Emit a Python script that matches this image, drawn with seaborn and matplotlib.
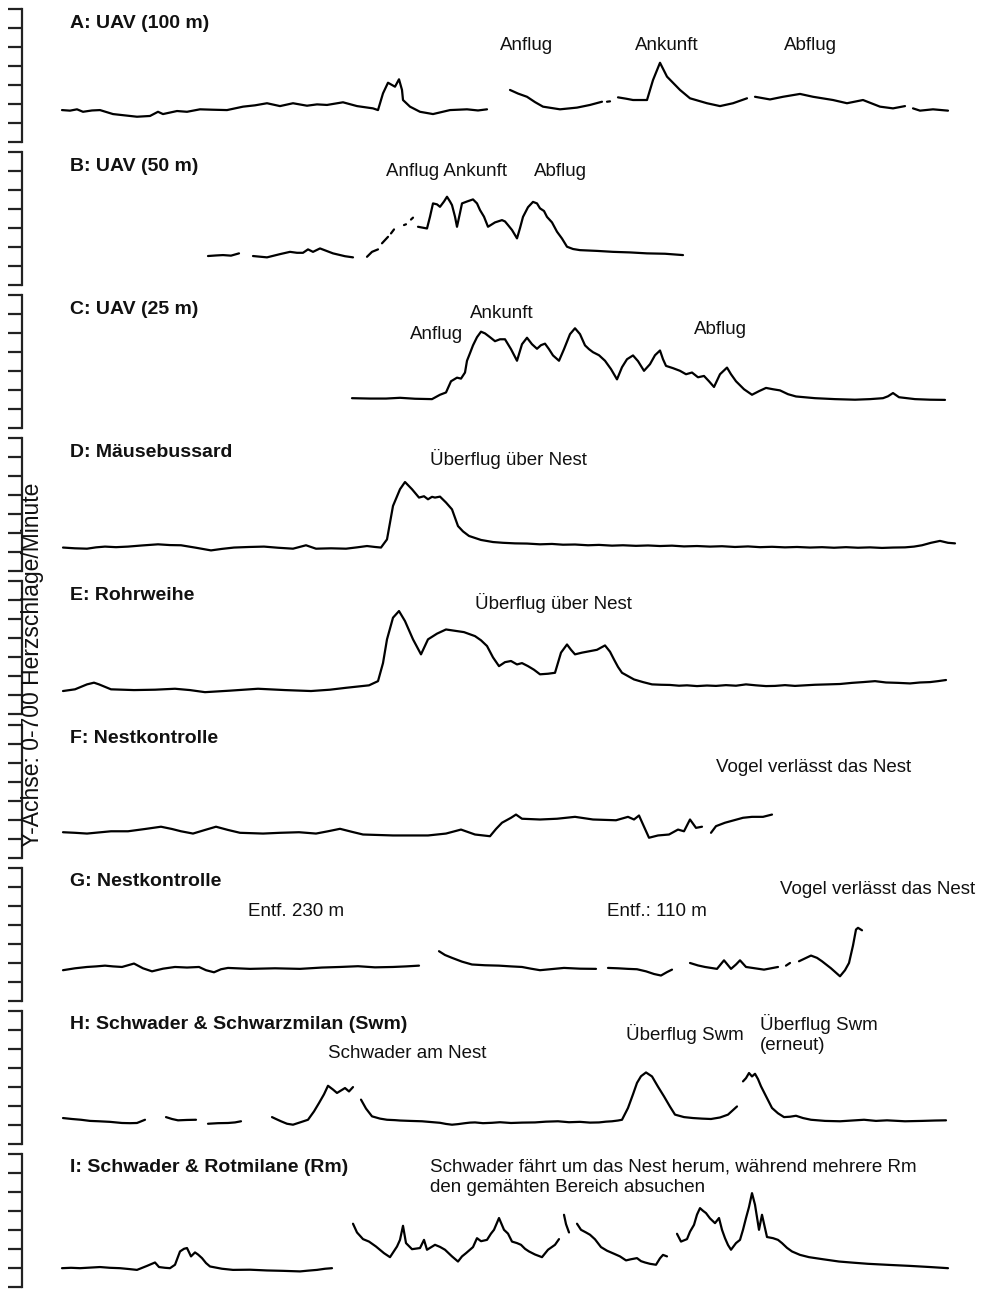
import numpy as np
import pandas as pd
import matplotlib
matplotlib.use("Agg")
import matplotlib.pyplot as plt
import seaborn as sns

GAP = np.nan

# ---------------- data (time index, heart rate in beats/min) ----------------
A_t = [62,70,77,83,92,100,113,125,137,150,158,163,170,177,187,200,212,227,243,255,267,280,293,307,317,327,343,357,373,378,383,388,395,399,402,403,410,420,433,450,467,478,487, GAP,
       510,518,527,535,543,560,577,590,602, GAP, 607,610, GAP,
       618,626,633,647,653,660,667,680,690,707,720,733,747, GAP,
       755,770,783,800,813,833,847,863,880,893,905, GAP, 913,920,933,948]
A_hr = [168,165,172,159,166,168,147,140,133,137,159,147,155,163,159,172,170,168,186,193,204,189,204,191,198,195,209,189,177,168,256,312,291,330,274,221,186,159,147,168,172,166,172, GAP,
        274,255,238,210,186,172,181,195,212, GAP, 212,214, GAP,
        235,228,221,221,326,417,344,274,230,204,189,204,230, GAP,
        238,224,238,253,238,221,204,221,186,177,189, GAP, 177,165,172,165]

B_t = [208,216,223,231,239, GAP, 253,267,280,290,297,303,308,313,320,333,345,353, GAP, 367,372,378, GAP,
       382,388, GAP, 391,394, GAP, 404,406, GAP, 411,413, GAP,
       418,427,430,433,437,440,444,447,450,452,455,457,460,462,467,473,477,480,484,488,495,502,505,508,512,517,520,523,528,533,
       537,540,544,547,552,557,562,567,573,580,597,613,630,647,665,683]
B_hr = [153,156,158,155,167, GAP, 153,146,163,175,170,170,188,175,193,167,152,146, GAP, 149,175,188, GAP,
        220,254, GAP, 272,293, GAP, 316,320, GAP, 345,355, GAP,
        307,298,360,430,425,412,440,465,440,421,360,307,380,430,440,451,430,395,360,307,330,342,335,316,290,246,300,359,410,438,
        430,404,390,359,330,281,245,202,190,184,180,175,172,167,165,158]

C_t = [352,370,386,400,415,432,440,446,451,457,461,465,467,470,473,477,481,485,490,495,500,505,511,517,522,527,532,537,541,545,
       549,553,559,564,570,575,580,585,589,593,599,605,611,617,622,627,633,638,644,650,655,660,663,666,673,680,686,692,698,704,
       709,714,720,727,731,736,744,752,759,766,773,780,788,796,815,835,855,870,883,888,893,899,915,930,945]
C_hr = [158,156,156,160,155,153,176,188,247,266,261,293,355,395,436,479,508,499,479,458,468,468,416,355,442,476,442,418,437,445,
        416,383,355,416,495,526,495,436,416,400,384,355,311,257,321,363,383,353,302,337,384,409,363,328,316,302,284,293,268,275,
        247,217,284,319,284,247,205,176,195,212,205,199,179,167,158,153,150,153,158,168,185,163,153,150,149]

D_t = [63,75,87,96,105,116,128,142,158,170,181,196,211,222,234,249,264,278,293,306,316,331,346,357,367,375,381,387,393,400,
       405,412,419,424,428,432,435,440,446,452,458,463,469,481,493,503,515,527,540,552,563,575,588,599,612,623,636,648,660,672,
       684,697,710,722,735,748,760,772,785,797,810,822,834,846,858,870,882,893,905,914,922,931,940,948,955]
D_hr = [125,121,119,126,130,127,130,136,142,138,137,124,110,118,125,128,130,124,119,137,119,121,119,126,133,128,125,168,344,432,
        470,432,388,395,379,392,388,393,362,326,238,210,186,165,154,150,147,146,142,144,140,141,137,139,135,137,134,136,133,135,
        131,133,130,132,128,131,127,129,126,128,125,127,124,127,124,126,123,125,126,130,137,150,160,150,147]

E_t = [63,75,87,94,99,111,134,155,175,190,205,230,258,285,311,330,346,369,378,383,387,393,399,405,413,421,428,437,446,455,
       464,475,481,487,493,499,505,511,517,522,528,534,540,548,555,561,567,571,575,582,590,597,605,610,614,618,622,634,643,652,
       661,670,679,687,697,707,716,726,736,746,756,766,775,785,795,805,815,828,840,852,863,875,886,898,910,920,930,938,946]
E_hr = [123,132,158,167,158,132,128,130,135,128,117,125,135,128,123,130,140,153,175,270,395,509,544,491,395,316,395,425,447,440,
        433,412,390,360,300,254,275,281,263,270,254,235,211,214,219,325,368,340,316,325,333,340,363,330,289,250,219,184,170,158,
        156,155,151,153,149,152,150,154,151,158,153,149,150,154,150,153,156,158,160,166,170,175,168,166,163,168,170,175,181]

F_t = [63,75,87,99,111,128,145,161,172,181,193,205,216,228,240,263,280,299,316,328,340,352,363,393,428,446,461,475,490,496,
       502,511,516,522,540,557,575,593,616,628,634,639,643,649,658,669,678,684,690,696,702, GAP,
       711,716,725,734,743,752,763,772]
F_hr = [133,130,126,132,138,138,150,162,150,138,126,145,162,145,130,126,130,133,126,138,151,135,121,116,116,126,147,121,112,150,
        183,209,226,204,200,204,214,200,196,214,200,221,174,104,116,121,147,138,200,156,162, GAP,
        130,165,183,196,209,214,214,226]

G_t = [63,75,87,96,105,113,122,134,143,152,163,175,187,199,206,214,221,228,250,275,300,322,340,358,375,393,406,419, GAP,
       439,445,452,462,472,485,499,511,522,531,540,552,564,580,596, GAP,
       608,618,628,637,646,654,661,667,672, GAP,
       690,698,705,711,717,724,731,736,740,746,755,764,771,778, GAP, 786,790, GAP,
       799,805,811,817,822,831,840,845,849,853,856,858,862]
G_hr = [160,170,177,180,184,180,177,195,170,154,168,177,174,177,160,149,165,172,167,170,167,174,177,181,175,177,180,184, GAP,
        260,240,225,205,190,186,184,180,177,168,160,166,172,168,167, GAP,
        172,170,167,165,154,140,132,150,163, GAP,
        198,185,177,172,167,212,167,190,212,177,170,163,170,177, GAP, 184,198, GAP,
        207,222,237,225,207,170,128,160,198,290,374,383,370]

H_t = [63,72,81,90,99,110,122,130,137,145, GAP, 166,172,178,187,196, GAP, 208,218,228,235,241, GAP,
       272,276,281,287,293,300,308,314,319,324,328,333,337,341,345,349,353, GAP,
       361,366,372,380,387,395,400,410,422,431,440,446,452,458,465,470,475,483,492,500,511,522,535,546,558,569,580,590,599,606,
       612,618,622,628,633,637,641,646,652,658,664,670,675,684,693,702,711,720,728,737, GAP,
       743,746,749,752,755,758,761,766,772,778,784,790,796,803,811,825,840,852,864,876,887,905,922,935,946]
H_hr = [135,130,126,120,118,115,109,108,109,126, GAP, 140,130,123,125,126, GAP, 105,108,109,112,118, GAP,
        140,130,118,105,100,112,126,170,214,260,305,285,267,280,293,275,298, GAP,
        232,185,144,132,126,124,122,120,118,114,110,104,100,103,108,111,112,108,110,113,109,111,112,116,118,113,115,111,112,116,
        118,122,126,188,260,320,355,375,354,300,249,195,153,140,135,132,130,138,153,196, GAP,
        328,345,372,354,368,340,302,250,188,160,140,142,147,135,126,120,118,122,126,120,123,118,120,122,123]

I_t = [62,71,80,90,100,110,120,128,137,147,155,159,165,170,175,180,184,187,191,195,198,202,206,210,222,233,250,267,283,300,
       308,317,325,332, GAP,
       353,357,363,369,376,384,390,397,400,403,406,412,420,424,427,435,440,445,452,458,462,466,473,477,481,487,491,494,499,504,
       508,512,517,521,525,529,535,542,548,555,559, GAP, 564,566,569, GAP,
       577,581,586,590,595,601,607,614,620,626,631,637,641,645,650,656,660,663,667, GAP,
       677,681,687,690,694,697,700,703,706,710,715,719,722,725,728,731,736,740,743,746,749,752,755,759,762,767,773,778,782,787,
       792,800,809,823,839,853,868,890,910,930,948]
I_hr = [98,100,98,101,104,100,98,94,89,110,128,104,100,98,116,186,200,204,160,181,170,151,125,107,95,89,90,86,84,81,
        85,89,95,98, GAP,
        332,286,251,238,212,177,156,212,247,321,230,198,204,247,195,221,210,195,160,133,160,177,209,256,240,247,280,300,362,300,
        280,238,230,221,200,186,170,156,195,221,251, GAP, 379,330,286, GAP,
        332,300,286,274,250,209,190,174,160,139,145,151,135,128,121,116,150,168,160, GAP,
        279,238,251,290,326,380,414,400,388,360,335,362,300,256,220,195,230,247,300,362,420,493,432,300,379,262,256,247,230,205,
        186,168,156,145,133,127,121,115,110,104,98]

panel_titles = ["A: UAV (100 m)", "B: UAV (50 m)", "C: UAV (25 m)", "D: Mäusebussard", "E: Rohrweihe",
                "F: Nestkontrolle", "G: Nestkontrolle", "H: Schwader & Schwarzmilan (Swm)",
                "I: Schwader & Rotmilane (Rm)"]
hr_ticks = [0, 100, 200, 300, 400, 500, 600, 700]
y_label = "Y-Achse: 0-700 Herzschläge/Minute"

# annotation texts per panel
A_notes = ["Anflug", "Ankunft", "Abflug"]
B_notes = ["Anflug Ankunft", "Abflug"]
C_notes = ["Anflug", "Ankunft", "Abflug"]
D_notes = ["Überflug über Nest"]
E_notes = ["Überflug über Nest"]
F_notes = ["Vogel verlässt das Nest"]
G_notes = ["Entf. 230 m", "Entf.: 110 m", "Vogel verlässt das Nest"]
H_notes = ["Schwader am Nest", "Überflug Swm", "Überflug Swm\n(erneut)"]
I_notes = ["Schwader fährt um das Nest herum, während mehrere Rm\nden gemähten Bereich absuchen"]

# ---------------- layout (pixels) ----------------
W, H = 988, 1291
note_pos = {
    0: [(527, 46, "center"), (667, 46, "center"), (810, 46, "center")],
    1: [(446, 171, "center"), (560, 171, "center")],
    2: [(437, 334, "center"), (502, 314, "center"), (720, 330, "center")],
    3: [(508, 459, "center")],
    4: [(553, 603, "center")],
    5: [(814, 767, "center")],
    6: [(296, 911, "center"), (657, 911, "center"), (878, 890, "center")],
    7: [(407, 1054, "center"), (685, 1034, "center"), (760, 1034, "left")],
    8: [(430, 1177, "left")],
}

series = [(A_t, A_hr, A_notes), (B_t, B_hr, B_notes), (C_t, C_hr, C_notes),
          (D_t, D_hr, D_notes), (E_t, E_hr, E_notes), (F_t, F_hr, F_notes),
          (G_t, G_hr, G_notes), (H_t, H_hr, H_notes), (I_t, I_hr, I_notes)]

sns.set_style("white")
plt.rcParams["font.family"] = ["Liberation Sans", "DejaVu Sans"]
plt.rcParams["text.color"] = "#111111"

fig = plt.figure(figsize=(W / 100, H / 100), dpi=100)

FS = 13.5
left_px, right_px = 22, 960
panel_h = 133
for i, (t, hr, notes) in enumerate(series):
    assert len(t) == len(hr), (i, len(t), len(hr))
    t = np.asarray(t, float)
    hr = np.asarray(hr, float)
    gap = np.isnan(t)
    df = pd.DataFrame({"t": t[~gap], "hr": hr[~gap], "seg": np.cumsum(gap)[~gap]})

    top = 9 + i * 143.1
    ax = fig.add_axes([left_px / W, 1 - (top + panel_h) / H,
                       (right_px - left_px) / W, panel_h / H])
    ax.patch.set_alpha(0)
    sns.lineplot(data=df, x="t", y="hr", units="seg", estimator=None, sort=False,
                 color="black", lw=1.6, ax=ax, legend=False)
    ax.set_xlim(left_px, right_px)
    ax.set_ylim(0, 700)
    for s in ["top", "right", "bottom"]:
        ax.spines[s].set_visible(False)
    ax.spines["left"].set_linewidth(1.6)
    ax.spines["left"].set_color("#222222")
    ax.set_yticks(hr_ticks)
    ax.set_yticklabels([])
    ax.set_xticks([])
    ax.tick_params(axis="y", which="major", left=True, direction="out", length=10,
                   width=1.6, color="#222222")
    ax.set_xlabel("")
    ax.set_ylabel("")

    fig.text(70 / W, 1 - (top + 14) / H, panel_titles[i], fontsize=14, fontweight="bold",
             ha="left", va="center")
    for txt, (x, y, ha) in zip(notes, note_pos[i]):
        fig.text(x / W, 1 - y / H, txt, fontsize=FS, ha=ha, va="center", linespacing=1.3)

fig.text(33 / W, 1 - 665 / H, y_label, rotation=90, fontsize=16.5, ha="center", va="center")

fig.savefig("out.png", dpi=100)
